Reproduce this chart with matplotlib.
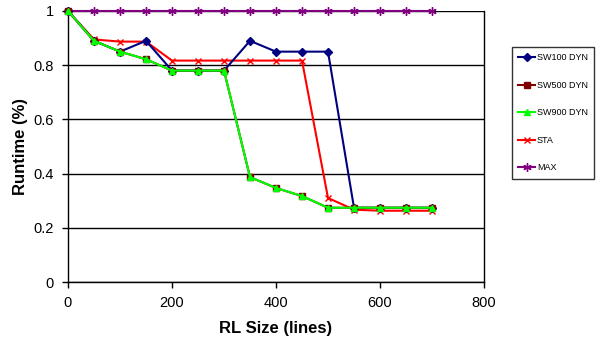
import matplotlib
matplotlib.use("Agg")
import matplotlib.pyplot as plt

plt.rcParams['font.family'] = ['Liberation Sans', 'DejaVu Sans']

x = [0, 50, 100, 150, 200, 250, 300, 350, 400, 450, 500, 550, 600, 650, 700]
sw100 = [1.0, 0.89, 0.85, 0.89, 0.78, 0.78, 0.78, 0.89, 0.85, 0.85, 0.85, 0.274, 0.274, 0.274, 0.274]
sw500 = [1.0, 0.89, 0.85, 0.822, 0.78, 0.78, 0.78, 0.387, 0.347, 0.317, 0.274, 0.274, 0.274, 0.274, 0.274]
sw900 = [1.0, 0.89, 0.85, 0.822, 0.78, 0.78, 0.78, 0.387, 0.347, 0.317, 0.274, 0.274, 0.274, 0.274, 0.274]
sta = [1.0, 0.895, 0.887, 0.887, 0.817, 0.817, 0.817, 0.817, 0.817, 0.817, 0.31, 0.267, 0.263, 0.263, 0.263]
mx = [1.0] * 15

fig = plt.figure(figsize=(5.96, 3.41), dpi=100)
ax = fig.add_axes([68/596, 1-282/341, (484-68)/596, (282-11)/341])

ax.plot(x, mx, color='#800080', marker=(6, 2, 0), markersize=6, lw=1.5, label='MAX', zorder=3, clip_on=False)
ax.plot(x, sta, color='#ff0000', marker='x', markersize=4.5, lw=1.5, label='STA', zorder=4, clip_on=False)
ax.plot(x, sw100, color='#000080', marker='D', markersize=4, lw=1.5, label='SW100 DYN', zorder=4, clip_on=False)
ax.plot(x, sw500, color='#800000', marker='s', markersize=4.5, lw=1.5, label='SW500 DYN', zorder=5, clip_on=False)
ax.plot(x, sw900, color='#00ff00', marker='^', markersize=4.5, lw=1.5, label='SW900 DYN', zorder=6, clip_on=False)

ax.set_xlim(0, 800)
ax.set_ylim(0, 1)
ax.set_xticks([0, 200, 400, 600, 800])
ax.set_yticks([0, 0.2, 0.4, 0.6, 0.8, 1.0])
ax.set_yticklabels(['0', '0.2', '0.4', '0.6', '0.8', '1'])
ax.yaxis.grid(True, color='black', lw=1)
ax.set_axisbelow(True)
ax.spines['top'].set_visible(False)
for s in ['left', 'bottom', 'right']:
    ax.spines[s].set_linewidth(1)
    ax.spines[s].set_color('black')
ax.tick_params(axis='both', direction='out', length=4, width=1, labelsize=10.5, pad=6)
ax.set_xlabel('RL Size (lines)', fontsize=12, fontweight='bold', labelpad=8)
ax.set_ylabel('Runtime (%)', fontsize=12, fontweight='bold', labelpad=4)

handles, labels = ax.get_legend_handles_labels()
order = [2, 3, 4, 1, 0]
leg = fig.legend([handles[i] for i in order], [labels[i] for i in order],
                 loc='upper left', bbox_to_anchor=(512/596, 1-47/341),
                 fontsize=6.5, frameon=True, fancybox=False, edgecolor='black',
                 labelspacing=2.05, handlelength=1.9, handletextpad=0.15,
                 borderpad=0.7, borderaxespad=0)
leg.get_frame().set_linewidth(1)

fig.savefig('out.png', dpi=100)
